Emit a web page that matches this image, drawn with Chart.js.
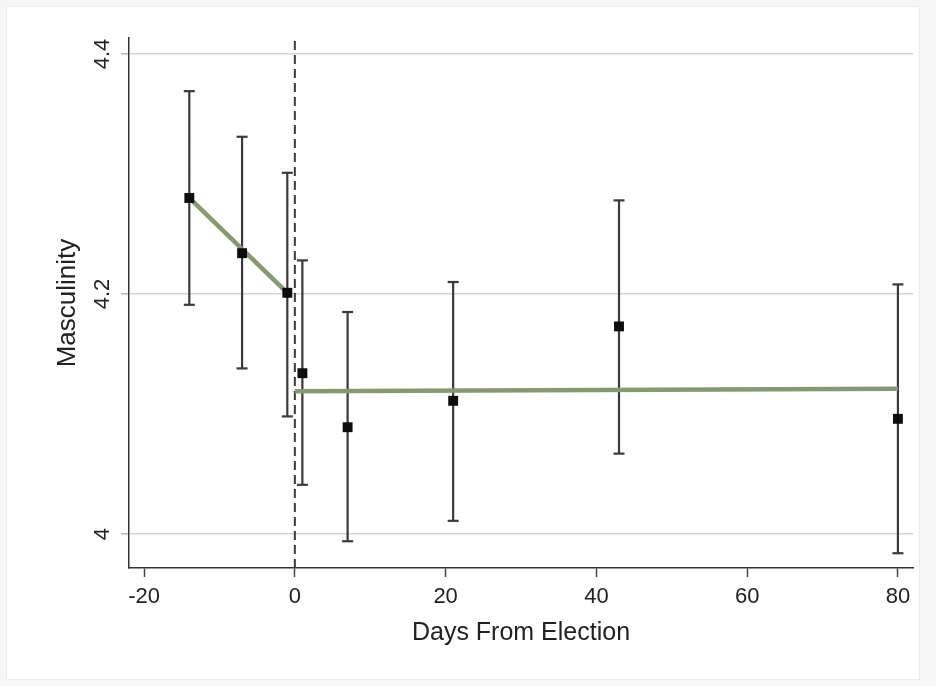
<!DOCTYPE html>
<html lang="en">
    <head>
        <meta charset="UTF-8" />
        <title>Masculinity by days from election</title>
        <script src="https://cdn.jsdelivr.net/npm/chart.js"></script>
        <style>
            body {
                margin: 0;
                width: 936px;
                height: 686px;
                background-color: #f6f6f6;
                position: relative;
                overflow: hidden;
            }
            .frame {
                position: absolute;
                left: 6px;
                top: 6px;
                width: 912px;
                height: 672px;
                background-color: white;
                border: 1px solid #ececec;
            }
            #chart {
                position: absolute;
                left: 0;
                top: 0;
            }
        </style>
    </head>
    <body>
        <div class="frame"></div>
        <canvas id="chart" width="936" height="686"></canvas>
        <script>
            // estimates
            const days = [-14, -7, -1, 1, 7, 21, 43, 80];
            const means = [4.280, 4.234, 4.201, 4.134, 4.089, 4.111, 4.173, 4.096];
            const ciLow = [4.191, 4.138, 4.098, 4.041, 3.994, 4.011, 4.067, 3.984];
            const ciHigh = [4.369, 4.331, 4.301, 4.228, 4.185, 4.210, 4.278, 4.208];

            const preFitX = [-14, -1];
            const preFitY = [4.280, 4.201];
            const postFitX = [0, 80];
            const postFitY = [4.119, 4.121];

            const electionDay = 0;
            const xTicks = [-20, 0, 20, 40, 60, 80];
            const yTicks = [4, 4.2, 4.4];
            const xRange = [-22, 82];
            const yRange = [3.9717, 4.4133];

            const FONT = "'Liberation Sans', Arial, sans-serif";
            const INK = "#222";
            const FIT = "#879873";

            // error bars: one dataset, segments split by null gaps
            const errData = [];
            days.forEach((d, i) => {
                errData.push({ x: d, y: ciLow[i] });
                errData.push({ x: d, y: ciHigh[i] });
                errData.push({ x: d, y: null });
            });

            const toPts = (xs, ys) => xs.map((x, i) => ({ x: x, y: ys[i] }));

            new Chart("chart", {
                type: "scatter",
                data: {
                    datasets: [
                        {
                            label: "means",
                            data: toPts(days, means),
                            pointStyle: "rect",
                            pointRadius: 7,
                            backgroundColor: "#0d0d0d",
                            borderColor: "#0d0d0d",
                            borderWidth: 0,
                            order: 0,
                        },
                        {
                            type: "line",
                            label: "ci",
                            data: errData,
                            borderColor: "#3a3a3a",
                            borderWidth: 2.2,
                            pointStyle: "line",
                            pointRadius: 5.5,
                            pointBorderWidth: 2.2,
                            pointBorderColor: "#3a3a3a",
                            spanGaps: false,
                            fill: false,
                            order: 2,
                        },
                        {
                            type: "line",
                            label: "pre",
                            data: toPts(preFitX, preFitY),
                            borderColor: FIT,
                            borderWidth: 4.5,
                            pointRadius: 0,
                            fill: false,
                            order: 1,
                        },
                        {
                            type: "line",
                            label: "post",
                            data: toPts(postFitX, postFitY),
                            borderColor: FIT,
                            borderWidth: 4.5,
                            pointRadius: 0,
                            fill: false,
                            order: 1,
                        },
                        {
                            type: "line",
                            label: "election",
                            data: toPts([electionDay, electionDay], yRange),
                            borderColor: "#3a3a3a",
                            borderWidth: 2,
                            borderDash: [9, 5],
                            pointRadius: 0,
                            fill: false,
                            order: 3,
                        },
                    ],
                },
                options: {
                    responsive: false,
                    animation: false,
                    layout: {
                        padding: { left: 0, top: 38, right: 23, bottom: 0 },
                    },
                    plugins: {
                        legend: { display: false },
                        tooltip: { enabled: false },
                    },
                    scales: {
                        x: {
                            type: "linear",
                            min: xRange[0],
                            max: xRange[1],
                            afterBuildTicks: (s) => {
                                s.ticks = xTicks.map((v) => ({ value: v }));
                            },
                            afterFit: (s) => {
                                s.height = 118;
                            },
                            grid: {
                                drawOnChartArea: false,
                                tickLength: 9,
                                tickColor: "#444",
                                tickWidth: 1.5,
                            },
                            border: { color: "#333", width: 1.5 },
                            ticks: {
                                color: INK,
                                padding: 7,
                                font: { family: FONT, size: 22 },
                            },
                            title: {
                                display: true,
                                text: "Days From Election",
                                color: INK,
                                font: { family: FONT, size: 25 },
                                padding: { top: 0, bottom: 38 },
                            },
                        },
                        y: {
                            type: "linear",
                            min: yRange[0],
                            max: yRange[1],
                            afterBuildTicks: (s) => {
                                s.ticks = yTicks.map((v) => ({ value: v }));
                            },
                            afterFit: (s) => {
                                s.width = 129;
                            },
                            grid: {
                                color: "#d6d6d6",
                                lineWidth: 1.5,
                                tickLength: 8,
                                tickColor: "#bdbdbd",
                            },
                            border: { color: "#333", width: 1.5 },
                            ticks: {
                                color: INK,
                                padding: 3,
                                minRotation: 90,
                                maxRotation: 90,
                                crossAlign: "center",
                                font: { family: FONT, size: 22 },
                                callback: (v) => String(v),
                            },
                            title: {
                                display: true,
                                text: "Masculinity",
                                color: INK,
                                font: { family: FONT, size: 26 },
                                padding: { top: 52, bottom: 0 },
                            },
                        },
                    },
                },
            });
        </script>
    </body>
</html>
